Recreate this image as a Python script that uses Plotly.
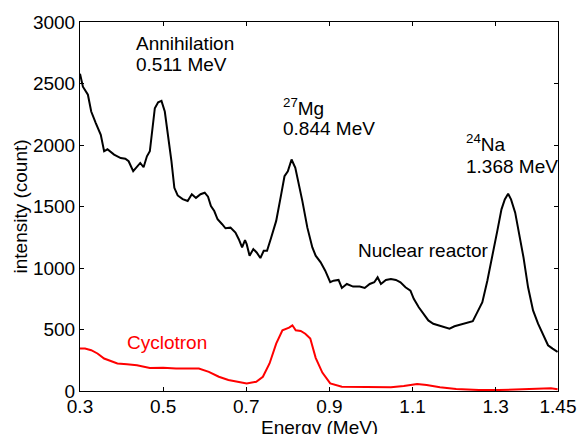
import plotly.graph_objects as go

# Nuclear reactor spectrum (energy MeV, counts)
reactor_e = [0.300, 0.307, 0.319, 0.327, 0.338, 0.350, 0.358, 0.366, 0.382, 0.398,
             0.409, 0.417, 0.428, 0.437, 0.445, 0.453, 0.461, 0.468, 0.480, 0.488,
             0.496, 0.504, 0.512, 0.520, 0.527, 0.535, 0.547, 0.559, 0.569, 0.579,
             0.590, 0.600, 0.608, 0.615, 0.623, 0.631, 0.642, 0.650, 0.662, 0.674,
             0.682, 0.690, 0.697, 0.701, 0.708, 0.717, 0.725, 0.734, 0.742, 0.750,
             0.760, 0.772, 0.784, 0.792, 0.800, 0.809, 0.818, 0.827, 0.835, 0.847,
             0.859, 0.867, 0.879, 0.890, 0.902, 0.910, 0.922, 0.930, 0.942, 0.957,
             0.973, 0.985, 0.997, 1.008, 1.016, 1.024, 1.036, 1.048, 1.060, 1.071,
             1.083, 1.095, 1.103, 1.115, 1.126, 1.138, 1.150, 1.166, 1.178, 1.189,
             1.201, 1.217, 1.233, 1.245, 1.256, 1.268, 1.280, 1.292, 1.304, 1.314,
             1.322, 1.330, 1.337, 1.347, 1.356, 1.367, 1.378, 1.390, 1.402, 1.414,
             1.426, 1.437, 1.449]
reactor_c = [2580, 2474, 2409, 2272, 2178, 2083, 1949, 1965, 1922, 1894,
             1889, 1868, 1787, 1819, 1854, 1819, 1908, 1949, 2299, 2348,
             2359, 2272, 2083, 1868, 1652, 1590, 1560, 1545, 1600, 1570,
             1600, 1612, 1580, 1504, 1463, 1396, 1356, 1323, 1328, 1288,
             1234, 1167, 1226, 1194, 1100, 1154, 1126, 1081, 1140, 1140,
             1248, 1383, 1599, 1746, 1787, 1882, 1814, 1679, 1544, 1328,
             1167, 1100, 1046, 978, 884, 897, 903, 838, 870, 849,
             849, 838, 870, 884, 924, 870, 903, 911, 903, 884,
             843, 816, 749, 681, 628, 574, 547, 530, 520, 507,
             526, 539, 552, 568, 641, 722, 897, 1086, 1302, 1477,
             1558, 1604, 1558, 1450, 1288, 1086, 843, 655, 547, 453,
             372, 345, 318]

# Cyclotron spectrum
cyclo_e = [0.300, 0.312, 0.327, 0.342, 0.358, 0.374, 0.390, 0.413, 0.437, 0.468,
           0.500, 0.531, 0.563, 0.586, 0.610, 0.634, 0.657, 0.681, 0.701, 0.724,
           0.740, 0.756, 0.772, 0.787, 0.803, 0.811, 0.819, 0.831, 0.842, 0.854,
           0.867, 0.883, 0.902, 0.930, 0.985, 1.048, 1.079, 1.111, 1.134, 1.166,
           1.205, 1.260, 1.307, 1.355, 1.402, 1.433, 1.449]
cyclo_c = [345, 345, 332, 305, 264, 245, 224, 218, 210, 188,
           190, 183, 186, 183, 156, 116, 89, 75, 62, 75,
           116, 224, 385, 493, 515, 534, 493, 488, 466, 426,
           270, 150, 62, 35, 30, 30, 40, 57, 48, 30,
           16, 8, 8, 14, 14, 22, 14]

x_ticks = [0.3, 0.5, 0.7, 0.9, 1.1, 1.3, 1.45]
x_ticktext = ["0.3", "0.5", "0.7", "0.9", "1.1", "1.3", "1.45"]
y_ticks = [0, 500, 1000, 1500, 2000, 2500, 3000]

FONT = "Liberation Sans, Arial, Helvetica, sans-serif"
FS = 19

fig = go.Figure()
fig.add_trace(go.Scatter(x=reactor_e, y=reactor_c, mode="lines",
                         line=dict(color="black", width=2), showlegend=False))
fig.add_trace(go.Scatter(x=cyclo_e, y=cyclo_c, mode="lines",
                         line=dict(color="#ff0000", width=2), showlegend=False))

labels = [
    ("Annihilation", 0.430, 2822, "black"),
    ("0.511 MeV", 0.430, 2652, "black"),
    ("<sup>27</sup>Mg", 0.784, 2305, "black"),
    ("0.844 MeV", 0.784, 2131, "black"),
    ("<sup>24</sup>Na", 1.223, 2013, "black"),
    ("1.368 MeV", 1.223, 1823, "black"),
    ("Nuclear reactor", 0.965, 1140, "black"),
    ("Cyclotron", 0.409, 392, "#ff0000"),
]
for txt, x, y, col in labels:
    fig.add_annotation(x=x, y=y, text=txt, showarrow=False, xanchor="left",
                       yanchor="middle", font=dict(family=FONT, size=FS, color=col))

fig.add_annotation(xref="paper", yref="paper", x=0.5, y=0, yanchor="top",
                   yshift=-24, text="Energy (MeV)", showarrow=False,
                   font=dict(family=FONT, size=FS, color="black"))
fig.add_annotation(xref="paper", yref="paper", x=0, y=0.5, xanchor="center",
                   xshift=-60, textangle=-90, text="intensity (count)", showarrow=False,
                   font=dict(family=FONT, size=FS, color="black"))

axis_common = dict(showline=True, linecolor="black", linewidth=1, mirror="ticks",
                   ticks="inside", ticklen=4, tickcolor="black", showgrid=False,
                   zeroline=False, tickfont=dict(family=FONT, size=FS, color="black"))
fig.update_xaxes(range=[0.3, 1.45], tickvals=x_ticks, ticktext=x_ticktext,
                 ticklabelstandoff=-2, **axis_common)
fig.update_yaxes(range=[0, 3000], tickvals=y_ticks, **axis_common)

fig.update_layout(width=588, height=434, margin=dict(l=80, r=21, t=20, b=43),
                  plot_bgcolor="white", paper_bgcolor="white",
                  font=dict(family=FONT, size=FS, color="black"))

fig.write_html("out.html")
